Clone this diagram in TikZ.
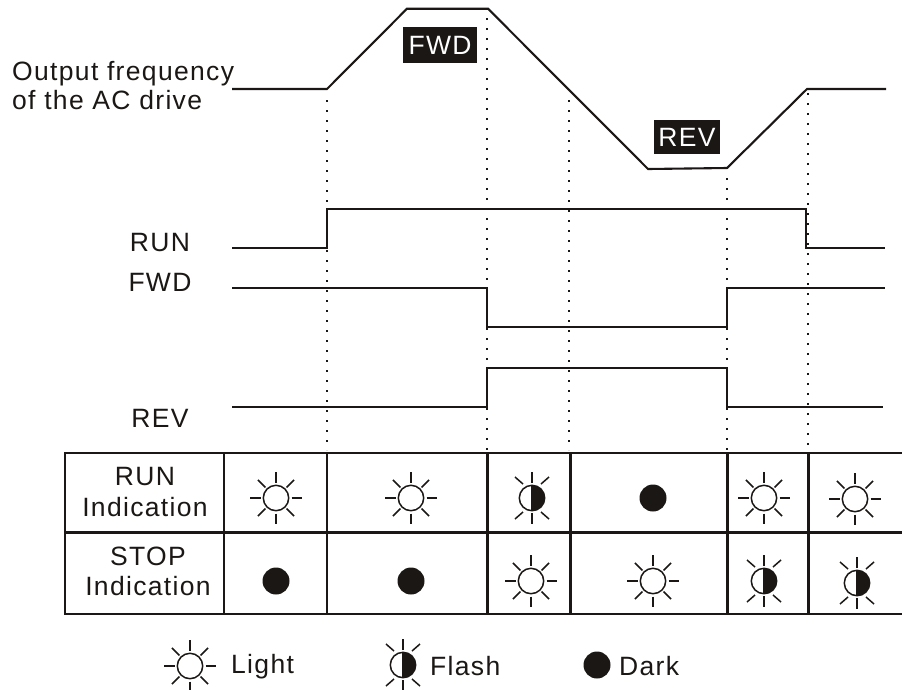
\documentclass[tikz,border=0pt]{standalone}
\usepackage{fontspec}
\setmainfont[LetterSpace=5]{Liberation Sans}
\definecolor{ink}{HTML}{1A1714}
\tikzset{
  x=1pt,y=-1pt,
  wave/.style={draw=ink,line width=2.1pt,line join=miter},
  guide/.style={draw=ink,line width=2pt,dash pattern=on 2pt off 8pt},
  grid line/.style={draw=ink,line width=2.2pt},
  label/.style={text=ink,font=\fontsize{26.5}{29}\selectfont,inner sep=0pt,align=center},
  tag/.style={fill=ink,text=white,font=\fontsize{26.5}{29}\selectfont,inner sep=0pt},
  ray/.style={draw=ink,line width=1.5pt},
  lightic/.pic={
    \draw[ink,line width=1.5pt] (0,0) circle[radius=12.7];
    \foreach \a in {0,90,180,270}{\draw[ray] (\a:15.5) -- (\a:26);}
    \foreach \a in {45,135,225,315}{\draw[ray] (\a:15) -- (\a:25.5);}
  },
  flashic/.pic={
    \fill[ink] (0,-12.7) arc[start angle=-90,end angle=90,radius=12.7] -- cycle;
    \draw[ink,line width=1.5pt] (0,0) circle[radius=12.7];
    \draw[ink,line width=1.2pt] (0,-12.7) -- (0,12.7);
    \foreach \a in {90,270}{\draw[ray] (\a:15) -- (\a:26);}
    \foreach \sx in {-1,1}{\foreach \sy in {-1,1}{\draw[ray] (\sx*9,\sy*14) -- (\sx*17,\sy*21);}}
  },
  darkic/.pic={\fill[ink] (0,0) circle[radius=13.5];}
}
\begin{document}
\begin{tikzpicture}
\useasboundingbox (0,0) rectangle (902,689);
% guides
\draw[guide] (327,100) -- (327,450);
\draw[guide] (487,18) -- (487,450);
\draw[guide] (569,100) -- (569,450);
\draw[guide] (727,178) -- (727,450);
\draw[guide] (808,93) -- (808,450);
% waves
\draw[wave] (232,89) -- (327,89) -- (407,8.7) -- (488,8.7) -- (648,169) -- (727,168) -- (807,89) -- (886,89);
\draw[wave,line width=1.8pt] (232,248) -- (327,248) -- (327,209) -- (806,209) -- (806,248) -- (885,248);
\draw[wave] (232,288) -- (487,288) -- (487,327) -- (727,327) -- (727,288) -- (885,288);
\draw[wave] (232,407) -- (487,407) -- (487,368) -- (727,368) -- (727,407) -- (883,407);
% labels
\node[label,align=left,anchor=base west] (freq) at (12,80) {Output frequency};
\node[label,align=left,anchor=base west] (freqb) at (12,109) {of the AC drive};
\node[tag,minimum width=74pt,minimum height=36pt] (fwdtag) at (440,45) {FWD};
\node[tag,minimum width=66pt,minimum height=34pt] (revtag) at (687,137) {REV};
\node[label,anchor=base] (run) at (160,251) {RUN};
\node[label,anchor=base] (fwd) at (160,291) {FWD};
\node[label,anchor=base] (rev) at (160,427) {REV};
% table
\draw[grid line] (64,453) -- (902,453);
\draw[grid line,line width=3pt] (64,532) -- (902,532);
\draw[grid line] (64,614) -- (902,614);
\draw[grid line,line width=1.8pt] (65,452) -- (65,615);
\foreach \x/\w in {224/2.6,327/2,487/3,570/3,727/3,808/3}{\draw[grid line,line width=\w pt] (\x,453) -- (\x,614);}
\node[label,anchor=base] (r1a) at (145,485) {RUN};
\node[label,anchor=base] (r1b) at (145,516) {Indication};
\node[label,anchor=base] (r2a) at (148,565) {STOP};
\node[label,anchor=base] (r2b) at (148,595) {Indication};
% icons
\pic at (276,498) {lightic};
\pic at (411,498) {lightic};
\pic at (532,498) {flashic};
\pic at (653,498) {darkic};
\pic at (764,498) {lightic};
\pic at (855,499) {lightic};
\pic at (276,581) {darkic};
\pic at (411,581) {darkic};
\pic at (531,581) {lightic};
\pic at (653,581) {lightic};
\pic at (764,581) {flashic};
\pic at (857,583) {flashic};
% legend
\pic at (190,666) {lightic};
\node[label,anchor=base west] (l1) at (231,673) {Light};
\pic at (403,665) {flashic};
\node[label,anchor=base west] (l2) at (430,675) {Flash};
\pic at (597,665) {darkic};
\node[label,anchor=base west] (l3) at (619,675) {Dark};
\end{tikzpicture}
\end{document}
